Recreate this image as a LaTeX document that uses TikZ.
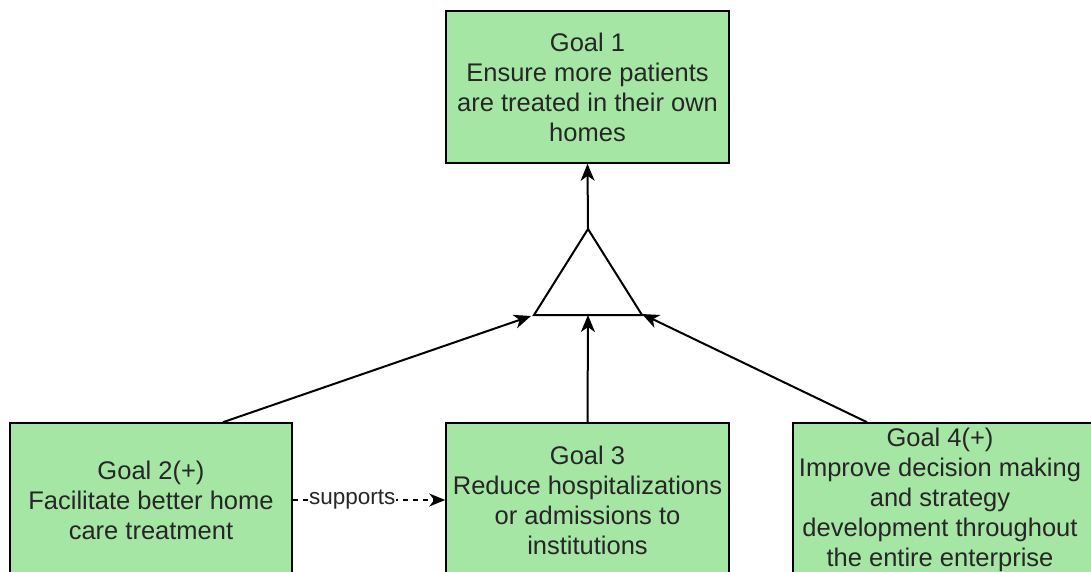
\documentclass[tikz,border=0pt]{standalone}
\usepackage{fontspec}
\setmainfont{Liberation Sans}
\usetikzlibrary{arrows.meta,calc}

\definecolor{goalgreen}{RGB}{166,230,164}
\definecolor{inkgray}{RGB}{38,38,38}

\tikzset{
  goalbox/.style={draw=black, line width=1.6pt, fill=goalgreen, rectangle,
    inner sep=0pt, text=inkgray, align=center,
    font=\fontsize{25.5pt}{30pt}\selectfont},
  goaltext/.style={inner sep=0pt, text=inkgray, align=center,
    font=\fontsize{25.5pt}{30pt}\selectfont},
  refine/.style={draw=black, line width=2pt,
    -{Stealth[length=17pt,width=14pt,inset=5pt]}},
  supportline/.style={draw=black, line width=1.5pt, dash pattern=on 5pt off 5pt,
    -{Stealth[length=16pt,width=13pt,inset=5pt]}},
  andtri/.style={draw=black, line width=2pt, line join=miter},
  edgelabel/.style={fill=white, inner sep=1pt, text=inkgray,
    font=\fontsize{22.5pt}{26pt}\selectfont}
}

\begin{document}
\begin{tikzpicture}[x=1pt, y=-1pt]
  \useasboundingbox (0,0) rectangle (1091,572);
  \clip (0,0) rectangle (1091,572);

  % top goal
  \node[goalbox, minimum width=283pt, minimum height=152pt] (g1) at (587.5,87)
    {Goal 1\\Ensure more patients\\are treated in their own\\homes};

  % AND refinement triangle
  \coordinate (ta) at (588,229);
  \coordinate (tl) at (534,315);
  \coordinate (tr) at (642,315);
  \coordinate (tb) at (588,315);
  \draw[andtri] (ta) -- (tl) -- (tr) -- cycle;

  % sub-goals
  \node[goalbox, minimum width=282pt, minimum height=154pt] (g2) at (151,500)
    {Goal 2(+)\\Facilitate better home\\care treatment};
  \node[goalbox, minimum width=283pt, minimum height=154pt] (g3) at (587.5,500)
    {Goal 3\\Reduce hospitalizations\\or admissions to\\institutions};
  \node[goalbox, minimum width=307pt, minimum height=154pt] (g4) at (946.5,500) {};
  \node[goaltext] (g4t) at (940,500)
    {Goal 4(+)\\Improve decision making\\and strategy\\development throughout\\the entire enterprise};

  % refinement links
  \draw[refine] (ta) -- (g1.south);
  \draw[refine] (g3.north) -- (tb);
  \draw[refine] ([xshift=72pt]g2.north) -- ([xshift=-3pt,yshift=-1pt]tl);
  \draw[refine] ([xshift=-79.5pt]g4.north) -- ([yshift=1pt]tr);

  % contribution link
  \draw[supportline] (g2.east) -- node[edgelabel, pos=0.39] (sup) {supports} (g3.west);
\end{tikzpicture}
\end{document}
